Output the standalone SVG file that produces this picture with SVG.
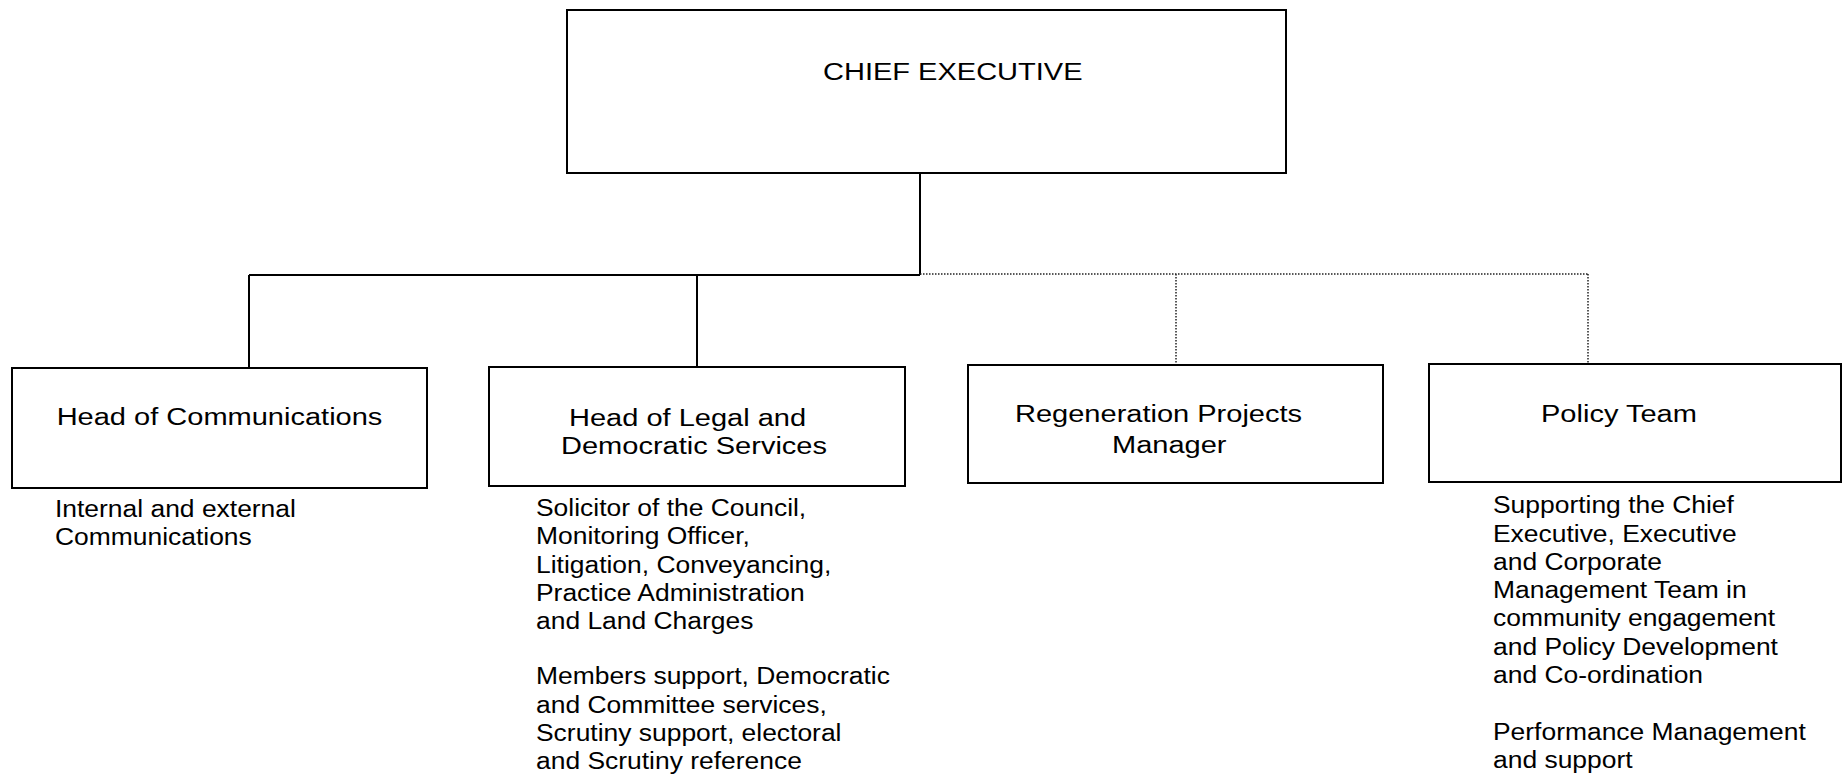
<svg xmlns="http://www.w3.org/2000/svg" width="1842" height="776" viewBox="0 0 1842 776">
  <style>
    .box { fill: #ffffff; stroke: #000000; stroke-width: 2; }
    .solid { fill: none; stroke: #000000; stroke-width: 2; }
    .dotted { fill: none; stroke: #222222; stroke-width: 1.5; stroke-dasharray: 1.5 1.5; }
    text { font-family: "Liberation Sans", Arial, sans-serif; font-size: 24.6px; fill: #000000; }
  </style>
  <rect x="0" y="0" width="1842" height="776" fill="#ffffff"/>

  <!-- reporting lines -->
  <g id="connectors">
    <path class="solid" d="M920 173 V275 M249 275 H920 M249 275 V368 M697 275 V367"/>
    <path class="dotted" d="M920 274 H1588 M1176 274 V365 M1588 274 V364"/>
  </g>

  <g id="chief-executive">
    <rect class="box" x="567" y="10" width="719" height="163"/>
    <text transform="matrix(1.18 0 0 1 823 80)">CHIEF EXECUTIVE</text>
  </g>

  <g id="head-of-communications">
    <rect class="box" x="12" y="368" width="415" height="120"/>
    <text transform="matrix(1.18 0 0 1 219.5 425)" text-anchor="middle">Head of Communications</text>
    <text transform="matrix(1.075 0 0 1 55 0)">
      <tspan x="0" y="517">Internal and external</tspan>
      <tspan x="0" y="545">Communications</tspan>
    </text>
  </g>

  <g id="head-of-legal">
    <rect class="box" x="489" y="367" width="416" height="119"/>
    <text transform="matrix(1.18 0 0 1 569 426)">Head of Legal and</text>
    <text transform="matrix(1.18 0 0 1 561 454)">Democratic Services</text>
    <text transform="matrix(1.075 0 0 1 536 0)">
      <tspan x="0" y="516">Solicitor of the Council,</tspan>
      <tspan x="0" y="544.3">Monitoring Officer,</tspan>
      <tspan x="0" y="572.6">Litigation, Conveyancing,</tspan>
      <tspan x="0" y="600.9">Practice Administration</tspan>
      <tspan x="0" y="629.2">and Land Charges</tspan>
      <tspan x="0" y="684.5">Members support, Democratic</tspan>
      <tspan x="0" y="712.8">and Committee services,</tspan>
      <tspan x="0" y="741.1">Scrutiny support, electoral</tspan>
      <tspan x="0" y="769.4">and Scrutiny reference</tspan>
    </text>
  </g>

  <g id="regeneration-projects-manager">
    <rect class="box" x="968" y="365" width="415" height="118"/>
    <text transform="matrix(1.18 0 0 1 1015 422)">Regeneration Projects</text>
    <text transform="matrix(1.18 0 0 1 1112 453)">Manager</text>
  </g>

  <g id="policy-team">
    <rect class="box" x="1429" y="364" width="412" height="118"/>
    <text transform="matrix(1.18 0 0 1 1541 422)">Policy Team</text>
    <text transform="matrix(1.075 0 0 1 1493 0)">
      <tspan x="0" y="513.3">Supporting the Chief</tspan>
      <tspan x="0" y="541.6">Executive, Executive</tspan>
      <tspan x="0" y="569.9">and Corporate</tspan>
      <tspan x="0" y="598.2">Management Team in</tspan>
      <tspan x="0" y="626.5">community engagement</tspan>
      <tspan x="0" y="654.8">and Policy Development</tspan>
      <tspan x="0" y="683.1">and Co-ordination</tspan>
      <tspan x="0" y="740">Performance Management</tspan>
      <tspan x="0" y="768.3">and support</tspan>
    </text>
  </g>
</svg>
